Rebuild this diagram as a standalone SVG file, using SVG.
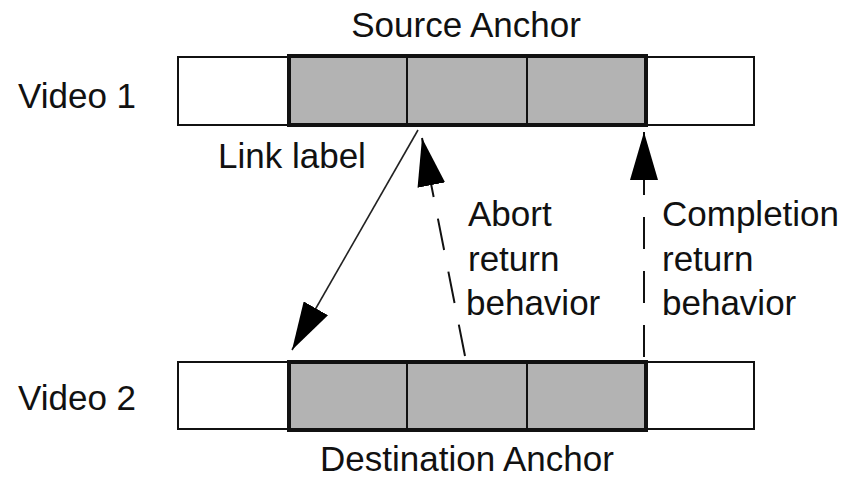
<svg xmlns="http://www.w3.org/2000/svg" width="845" height="479" viewBox="0 0 845 479">
<style>
  text { font-family: "Liberation Sans", Arial, sans-serif; font-size: 35px; fill: #111; }
  .outer { fill: #fff; stroke: #111; stroke-width: 2; }
  .anchor { fill: #b3b3b3; stroke: #111; stroke-width: 4; }
  .div { stroke: #111; stroke-width: 2; }
  .solid { fill: none; stroke: #222; stroke-width: 1.6; }
  .dash { fill: none; stroke: #111; stroke-width: 2; stroke-dasharray: 32 22; }
</style>
<defs>
  <marker id="ah" viewBox="0 0 48 28" refX="48" refY="14" markerWidth="48" markerHeight="28" orient="auto" markerUnits="userSpaceOnUse">
    <path d="M0,0 L48,14 L0,28 Z" fill="#000"/>
  </marker>
</defs>
<g id="video1">
  <rect class="outer" x="178" y="57" width="576" height="68"/>
  <rect class="anchor" x="289" y="56" width="357" height="69"/>
  <line class="div" x1="407" y1="56" x2="407" y2="125"/>
  <line class="div" x1="527" y1="56" x2="527" y2="125"/>
  <text x="18" y="108">Video 1</text>
  <text x="466" y="37" text-anchor="middle">Source Anchor</text>
  <text x="218" y="168">Link label</text>
</g>
<g id="video2">
  <rect class="outer" x="178" y="362" width="576" height="67"/>
  <rect class="anchor" x="289" y="362" width="357" height="68"/>
  <line class="div" x1="407" y1="362" x2="407" y2="430"/>
  <line class="div" x1="527" y1="362" x2="527" y2="430"/>
  <text x="18" y="410">Video 2</text>
  <text x="467" y="471" text-anchor="middle">Destination Anchor</text>
</g>
<g id="labels">
  <text x="468" y="226">Abort</text>
  <text x="468" y="271">return</text>
  <text x="466" y="315">behavior</text>
  <text x="662" y="226">Completion</text>
  <text x="662" y="271">return</text>
  <text x="662" y="315">behavior</text>
</g>
<g id="connectors">
  <line class="solid" x1="418" y1="130" x2="292" y2="350" marker-end="url(#ah)"/>
  <line class="dash" x1="465" y1="356" x2="422" y2="138" marker-end="url(#ah)"/>
  <line class="dash" x1="644" y1="357" x2="644" y2="132" marker-end="url(#ah)"/>
</g>
</svg>
